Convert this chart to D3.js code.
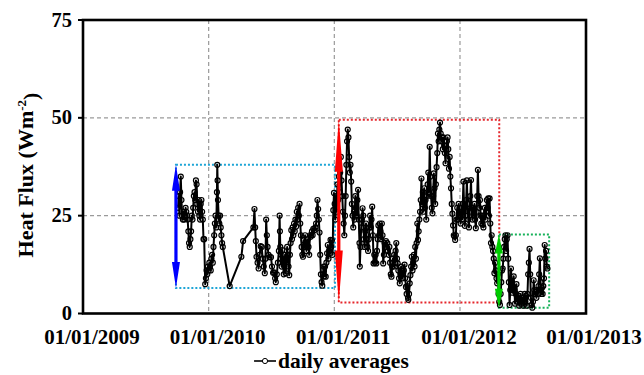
<!DOCTYPE html>
<html>
<head>
<meta charset="utf-8">
<script src="https://cdn.jsdelivr.net/npm/d3@7"></script>
<style>
  html, body { margin: 0; padding: 0; background: #fff; }
  text { font-family: 'Liberation Serif', 'Times New Roman', Times, serif; font-weight: bold; }
</style>
</head>
<body>
<div id="chart"></div>
<script>
// daily averages (one line per month)
const dates = [
  '2009-10-04','2009-10-06','2009-10-08','2009-10-10','2009-10-12','2009-10-14','2009-10-16','2009-10-18','2009-10-20','2009-10-22','2009-10-24','2009-10-26','2009-10-28','2009-10-30',
  '2009-11-01','2009-11-03','2009-11-05','2009-11-07','2009-11-09','2009-11-11','2009-11-13','2009-11-15','2009-11-17','2009-11-19','2009-11-21','2009-11-23','2009-11-25','2009-11-27','2009-11-29',
  '2009-12-01','2009-12-03','2009-12-05','2009-12-07','2009-12-09','2009-12-11','2009-12-13','2009-12-15','2009-12-17','2009-12-19','2009-12-22','2009-12-24','2009-12-26','2009-12-28','2009-12-30',
  '2010-01-01','2010-01-03','2010-01-05','2010-01-07','2010-01-09','2010-01-11','2010-01-13','2010-01-15','2010-01-17','2010-01-19','2010-01-21','2010-01-23','2010-01-25','2010-01-26','2010-01-27','2010-01-28','2010-01-30',
  '2010-02-01','2010-02-03','2010-02-05','2010-02-07','2010-02-09','2010-02-11',
  '2010-03-03',
  '2010-04-06','2010-04-11',
  '2010-05-11','2010-05-14','2010-05-16','2010-05-18','2010-05-20','2010-05-23','2010-05-26','2010-05-29',
  '2010-06-01','2010-06-04','2010-06-07','2010-06-10','2010-06-13','2010-06-15','2010-06-17','2010-06-19','2010-06-21','2010-06-24','2010-06-27',
  '2010-07-01','2010-07-04','2010-07-07','2010-07-10','2010-07-13','2010-07-15','2010-07-18','2010-07-21','2010-07-24','2010-07-26','2010-07-27','2010-07-28','2010-07-30',
  '2010-08-01','2010-08-03','2010-08-05','2010-08-07','2010-08-09','2010-08-11','2010-08-13','2010-08-15','2010-08-17','2010-08-19','2010-08-21','2010-08-23','2010-08-25','2010-08-27','2010-08-29','2010-08-31',
  '2010-09-02','2010-09-04','2010-09-06','2010-09-08','2010-09-10','2010-09-12','2010-09-14','2010-09-16','2010-09-18','2010-09-20','2010-09-22','2010-09-24','2010-09-26','2010-09-28','2010-09-30',
  '2010-10-02','2010-10-04','2010-10-06','2010-10-08','2010-10-10','2010-10-12','2010-10-14','2010-10-16','2010-10-18','2010-10-20','2010-10-22','2010-10-24','2010-10-26','2010-10-28','2010-10-30',
  '2010-11-01','2010-11-04','2010-11-07','2010-11-09','2010-11-11','2010-11-13','2010-11-15','2010-11-17','2010-11-19','2010-11-21','2010-11-23','2010-11-25','2010-11-27','2010-11-29',
  '2010-12-01','2010-12-03','2010-12-05','2010-12-07','2010-12-09','2010-12-11','2010-12-13','2010-12-15','2010-12-17','2010-12-19','2010-12-21','2010-12-23','2010-12-25','2010-12-27','2010-12-29','2010-12-31',
  '2011-01-02','2011-01-04','2011-01-06','2011-01-08','2011-01-10','2011-01-12','2011-01-14','2011-01-16','2011-01-18','2011-01-20','2011-01-22','2011-01-24','2011-01-26','2011-01-28','2011-01-30',
  '2011-02-01','2011-02-03','2011-02-05','2011-02-07','2011-02-09','2011-02-11','2011-02-13','2011-02-15','2011-02-17','2011-02-19','2011-02-21','2011-02-23','2011-02-25','2011-02-27',
  '2011-03-01','2011-03-03','2011-03-05','2011-03-07','2011-03-09','2011-03-11','2011-03-13','2011-03-15','2011-03-16','2011-03-18','2011-03-20','2011-03-22','2011-03-24','2011-03-26','2011-03-28','2011-03-30',
  '2011-04-01','2011-04-03','2011-04-05','2011-04-07','2011-04-09','2011-04-11','2011-04-13','2011-04-15','2011-04-17','2011-04-19','2011-04-21','2011-04-23','2011-04-25','2011-04-27','2011-04-29',
  '2011-05-01','2011-05-03','2011-05-05','2011-05-07','2011-05-09','2011-05-11','2011-05-13','2011-05-15','2011-05-17','2011-05-19','2011-05-21','2011-05-23','2011-05-25','2011-05-27','2011-05-29','2011-05-31',
  '2011-06-02','2011-06-04','2011-06-06','2011-06-08','2011-06-10','2011-06-12','2011-06-14','2011-06-16','2011-06-18','2011-06-20','2011-06-22','2011-06-24','2011-06-26','2011-06-28','2011-06-30',
  '2011-07-02','2011-07-04','2011-07-06','2011-07-08','2011-07-10','2011-07-12','2011-07-14','2011-07-16','2011-07-18','2011-07-20','2011-07-22','2011-07-24','2011-07-26','2011-07-28','2011-07-30',
  '2011-08-01','2011-08-03','2011-08-04','2011-08-06','2011-08-08','2011-08-10','2011-08-12','2011-08-14','2011-08-16','2011-08-18','2011-08-20','2011-08-22','2011-08-24','2011-08-26','2011-08-28','2011-08-30',
  '2011-09-01','2011-09-03','2011-09-05','2011-09-07','2011-09-09','2011-09-11','2011-09-13','2011-09-15','2011-09-17','2011-09-19','2011-09-21','2011-09-23','2011-09-25','2011-09-27','2011-09-29',
  '2011-10-01','2011-10-03','2011-10-05','2011-10-07','2011-10-09','2011-10-11','2011-10-13','2011-10-15','2011-10-17','2011-10-19','2011-10-21','2011-10-23','2011-10-25','2011-10-27','2011-10-29','2011-10-31',
  '2011-11-02','2011-11-04','2011-11-06','2011-11-08','2011-11-10','2011-11-12','2011-11-14','2011-11-16','2011-11-18','2011-11-20','2011-11-22','2011-11-24','2011-11-26','2011-11-28','2011-11-30',
  '2011-12-02','2011-12-04','2011-12-06','2011-12-08','2011-12-10','2011-12-12','2011-12-14','2011-12-16','2011-12-18','2011-12-20','2011-12-22','2011-12-24','2011-12-26','2011-12-28','2011-12-30',
  '2012-01-01','2012-01-03','2012-01-05','2012-01-07','2012-01-09','2012-01-11','2012-01-13','2012-01-15','2012-01-17','2012-01-19','2012-01-21','2012-01-23','2012-01-25','2012-01-27','2012-01-29','2012-01-31',
  '2012-02-02','2012-02-04','2012-02-06','2012-02-08','2012-02-10','2012-02-12','2012-02-14','2012-02-16','2012-02-18','2012-02-20','2012-02-22','2012-02-24','2012-02-26','2012-02-28',
  '2012-03-01','2012-03-03','2012-03-05','2012-03-07','2012-03-09','2012-03-11','2012-03-13','2012-03-15','2012-03-17','2012-03-19','2012-03-21','2012-03-23','2012-03-25','2012-03-27','2012-03-29','2012-03-31',
  '2012-04-02','2012-04-04','2012-04-06','2012-04-08','2012-04-10','2012-04-12','2012-04-14','2012-04-16','2012-04-18','2012-04-20','2012-04-22','2012-04-24','2012-04-26','2012-04-28','2012-04-30',
  '2012-05-02','2012-05-04','2012-05-06','2012-05-08','2012-05-10','2012-05-12','2012-05-14','2012-05-16','2012-05-18','2012-05-20','2012-05-22','2012-05-24','2012-05-26','2012-05-28','2012-05-30',
  '2012-06-01','2012-06-03','2012-06-05','2012-06-07','2012-06-09','2012-06-11','2012-06-13','2012-06-15','2012-06-17','2012-06-19','2012-06-21','2012-06-23','2012-06-25','2012-06-27','2012-06-29',
  '2012-07-01','2012-07-03','2012-07-05','2012-07-07','2012-07-09','2012-07-11','2012-07-13','2012-07-15','2012-07-17','2012-07-19','2012-07-21','2012-07-23','2012-07-25','2012-07-27','2012-07-29','2012-07-31',
  '2012-08-02','2012-08-04','2012-08-06','2012-08-08','2012-08-10','2012-08-12','2012-08-14','2012-08-16','2012-08-18','2012-08-20','2012-08-22','2012-08-24','2012-08-26','2012-08-28','2012-08-30',
  '2012-09-01','2012-09-03','2012-09-05','2012-09-07','2012-09-09','2012-09-11'
];

const heatFlux = [
  27, 30, 25, 31, 35, 29, 25, 24, 26, 24, 25, 27, 26, 25,
  24, 21, 18, 17, 19, 21, 25, 24, 27, 30, 31, 29, 34, 33, 28,
  26, 29, 25, 24, 28, 29, 26, 24, 19, 19, 7.5, 9, 11, 10, 12,
  11, 13, 12, 11, 14, 15, 13, 17, 20, 23, 25, 22, 31, 38, 34, 29, 25,
  23, 25, 22, 20, 18, 17,
  7,
  14.5, 18.5,
  22, 26.7, 22, 18.5, 14.5, 13, 11.5, 15,
  17.2, 17, 14, 12, 10.3, 14, 24, 20, 17, 15, 14.4,
  14.4, 12, 10.4, 10.5, 9, 8, 10, 13, 16, 25, 21, 17, 14,
  12, 16.2, 13, 10, 12, 15, 10.3, 14, 17, 15, 12, 9.8, 15, 18, 21.3, 19,
  22, 20, 23, 21, 24, 22.2, 26, 24, 27, 25, 28, 23, 20, 17, 15,
  14.5, 18.7, 17, 20, 18, 16, 17, 19, 17, 15, 20, 19.6, 20, 21, 20,
  21.6, 21.3, 22, 23, 25, 29, 26.7, 24, 20.7, 15, 10, 8, 7.1, 10,
  12, 9.5, 12, 9.4, 13, 15.4, 17.5, 14, 16, 15.4, 18.8, 17, 18.7, 15, 26.4, 30.8,
  28, 24, 30, 26, 33, 29, 35, 31, 36, 40, 34, 30, 26, 23, 20,
  25, 30, 38, 44, 47, 45, 40, 36, 38, 33.7, 28, 25, 22, 26,
  24, 30, 27, 25, 29, 31.6, 24, 18, 12, 17, 22, 24, 26.9, 25, 19, 17,
  21, 23, 19, 17, 16, 19, 22, 25, 22, 24, 27.3, 20, 12.8, 15, 13,
  15, 12.8, 16, 19, 22.5, 20, 23, 21, 19, 23, 20, 12.8, 15, 18, 17, 18.5,
  17, 18, 16, 15, 17, 13, 10, 9.4, 12, 14, 12, 15, 13, 16, 18,
  14, 12.8, 11, 9, 7.7, 10, 12, 11, 9, 10.3, 11, 12.5, 9, 6.8, 5,
  7, 4, 3.5, 5, 7.7, 9.8, 12, 14.5, 11, 13, 15, 12, 17, 14, 18, 23,
  18.8, 21, 24, 26, 29, 34.5, 28, 31, 26, 32, 27, 29, 24, 30, 33,
  36, 31, 42.6, 35, 30, 27, 25.6, 30, 35.8, 32, 28, 33, 37.4, 41, 46, 44,
  47, 48.8, 46, 44, 45, 42, 45, 43, 41, 38.4, 42, 44, 45, 42, 37,
  40, 35, 32, 28, 25.5, 22.5, 20, 19.7, 18.8, 20, 24, 27, 24, 28, 25,
  26, 23, 27, 24, 28, 33.7, 27, 22.4, 25, 29, 34, 28, 24, 22, 26, 30,
  34.1, 27, 24, 27, 25, 28, 24, 21.8, 26, 30, 36.7, 30, 27, 29,
  25, 23, 25, 22.7, 22, 25, 27, 24, 26, 29, 27, 29.4, 25, 29.4, 23, 18,
  20, 17, 16, 14, 10.3, 13, 11, 9, 7.7, 10, 5, 3, 2.2, 5, 8,
  11, 11.5, 14, 17, 19, 20, 16, 19, 20, 14, 8, 2.2, 6, 11.5, 8,
  5.3, 7, 9.5, 6, 2.5, 5, 7.5, 4, 3, 4.5, 2, 3.5, 5, 2.5, 3,
  4, 2, 3.5, 5, 3, 4.5, 2, 5, 10, 13, 16.5, 10, 4, 2.2, 1.5, 3,
  8.5, 6, 5, 5.5, 4, 6, 5, 7, 10, 14.1, 8, 5, 6.5, 5, 7,
  9, 17.5, 14, 16, 12, 11.5
];

const yTicks = [0, 25, 50, 75];
const xTicks = ['2009-01-01', '2010-01-01', '2011-01-01', '2012-01-01', '2013-01-01'];
const xTickLabels = ['01/01/2009', '01/01/2010', '01/01/2011', '01/01/2012', '01/01/2013'];

// highlighted periods (dotted boxes + range arrows)
const periodStart = ['2009-09-28', '2011-01-14', '2012-04-23'];
const periodEnd = ['2011-01-03', '2012-04-24', '2012-09-16'];
const periodMin = [6.5, 2.8, 1.5];
const periodMax = [38, 49.5, 20.2];

const seriesName = 'daily averages';

const boxColors = ['#1ea5d6', '#e5262b', '#17b25a'];
const arrowColors = ['#0000ff', '#ff0000', '#00cc00'];
const headLen = [26, 52, 19];
const FONT = "'Liberation Serif', 'Times New Roman', Times, serif";

const W = 644, H = 375;
const margin = { top: 20, right: 58, bottom: 61.5, left: 83 };
const width = W - margin.left - margin.right;
const height = H - margin.top - margin.bottom;

const parse = d3.timeParse('%Y-%m-%d');
const data = dates.map((d, i) => ({ date: parse(d), value: heatFlux[i] }));
if (dates.length !== heatFlux.length) console.error('length mismatch', dates.length, heatFlux.length);

const x = d3.scaleTime().domain([parse(xTicks[0]), parse(xTicks[xTicks.length - 1])]).range([0, width]);
const y = d3.scaleLinear().domain([0, 75]).range([height, 0]);

const svg = d3.select('#chart').append('svg')
  .attr('width', W)
  .attr('height', H)
  .style('display', 'block');

const g = svg.append('g').attr('transform', 'translate(' + margin.left + ',' + margin.top + ')');

// gridlines
g.append('g')
  .selectAll('line')
  .data(yTicks.filter(t => t > 0 && t < 75))
  .enter().append('line')
  .attr('x1', 0).attr('x2', width)
  .attr('y1', d => y(d)).attr('y2', d => y(d))
  .attr('stroke', '#9a9a9a').attr('stroke-width', 1.2).attr('stroke-dasharray', '4,3');

g.append('g')
  .selectAll('line')
  .data(xTicks.slice(1, -1))
  .enter().append('line')
  .attr('x1', d => x(parse(d))).attr('x2', d => x(parse(d)))
  .attr('y1', 0).attr('y2', height)
  .attr('stroke', '#9a9a9a').attr('stroke-width', 1.2).attr('stroke-dasharray', '4,3');

// period boxes
g.append('g')
  .selectAll('rect')
  .data(periodStart)
  .enter().append('rect')
  .attr('x', (d, i) => x(parse(d)))
  .attr('y', (d, i) => y(periodMax[i]))
  .attr('width', (d, i) => x(parse(periodEnd[i])) - x(parse(d)))
  .attr('height', (d, i) => y(periodMin[i]) - y(periodMax[i]))
  .attr('fill', 'none')
  .attr('stroke', (d, i) => boxColors[i])
  .attr('stroke-width', 2)
  .attr('stroke-dasharray', '2,2');

// series
const line = d3.line().x(d => x(d.date)).y(d => y(d.value));
g.append('path')
  .datum(data)
  .attr('fill', 'none')
  .attr('stroke', '#000')
  .attr('stroke-width', 2)
  .attr('stroke-linejoin', 'round')
  .attr('d', line);

g.append('g')
  .selectAll('circle')
  .data(data)
  .enter().append('circle')
  .attr('cx', d => x(d.date))
  .attr('cy', d => y(d.value))
  .attr('r', 2.5)
  .attr('fill', 'none')
  .attr('stroke', '#000')
  .attr('stroke-width', 1.2);

// range arrows
g.append('g')
  .selectAll('path')
  .data(periodStart)
  .enter().append('path')
  .attr('fill', (d, i) => arrowColors[i])
  .attr('d', (d, i) => {
    const cx = x(parse(d));
    const top = y(periodMax[i]);
    const bot = y(periodMin[i]);
    const h = headLen[i], hw = 4, sw = 1.6;
    return 'M' + cx + ',' + top +
      'L' + (cx + hw) + ',' + (top + h) +
      'L' + (cx + sw) + ',' + (top + h) +
      'L' + (cx + sw) + ',' + (bot - h) +
      'L' + (cx + hw) + ',' + (bot - h) +
      'L' + cx + ',' + bot +
      'L' + (cx - hw) + ',' + (bot - h) +
      'L' + (cx - sw) + ',' + (bot - h) +
      'L' + (cx - sw) + ',' + (top + h) +
      'L' + (cx - hw) + ',' + (top + h) + 'Z';
  });

// frame
g.append('rect')
  .attr('width', width)
  .attr('height', height)
  .attr('fill', 'none')
  .attr('stroke', '#000')
  .attr('stroke-width', 2.6);

// y axis ticks
const yAxis = g.append('g');
yAxis.selectAll('line')
  .data(yTicks)
  .enter().append('line')
  .attr('x1', -5).attr('x2', 0)
  .attr('y1', d => y(d)).attr('y2', d => y(d))
  .attr('stroke', '#000').attr('stroke-width', 2);
yAxis.selectAll('text')
  .data(yTicks)
  .enter().append('text')
  .attr('x', -11)
  .attr('y', d => y(d))
  .attr('dy', '0.32em')
  .attr('text-anchor', 'end')
  .style('font-family', FONT)
  .style('font-weight', 'bold')
  .style('font-size', '20.5px')
  .text(d => d);

// x axis labels
g.append('g')
  .selectAll('text')
  .data(xTicks)
  .enter().append('text')
  .attr('x', d => Math.min(x(parse(d)) + 9, W - margin.left - 50))
  .attr('y', height + 30.5)
  .attr('text-anchor', 'middle')
  .style('font-family', FONT)
  .style('font-weight', 'bold')
  .style('font-size', '21px')
  .text((d, i) => xTickLabels[i]);

// y title
const title = svg.append('text')
  .attr('transform', 'translate(33,175) rotate(-90)')
  .attr('text-anchor', 'middle')
  .style('font-family', FONT)
  .style('font-weight', 'bold')
  .style('font-size', '22px');
title.append('tspan').text('Heat Flux (Wm');
title.append('tspan').attr('dy', '-0.55em').style('font-size', '13px').text('-2');
title.append('tspan').attr('dy', '0.55em').text(')');

// legend
const legend = svg.append('g').attr('transform', 'translate(254,361)');
legend.append('line').attr('x1', 0).attr('x2', 22).attr('stroke', '#000').attr('stroke-width', 1.6);
legend.append('circle').attr('cx', 11).attr('r', 2.6).attr('fill', '#fff').attr('stroke', '#000');
legend.append('text')
  .attr('x', 24)
  .attr('y', 7)
  .style('font-family', FONT)
  .style('font-weight', 'bold')
  .style('font-size', '21.5px')
  .text(seriesName);
</script>
</body>
</html>
